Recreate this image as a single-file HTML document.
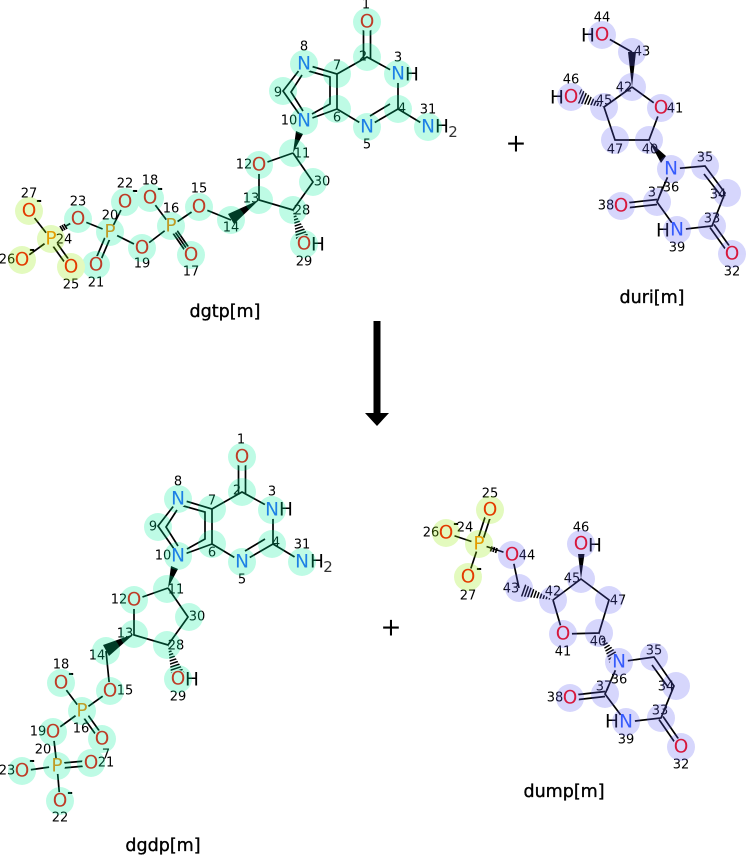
<!DOCTYPE html>
<html><head><meta charset="utf-8"><style>
html,body{margin:0;padding:0;background:#fff}
svg{display:block}
text{font-family:"DejaVu Sans",sans-serif;text-anchor:middle;dominant-baseline:central}
.b line,.b polyline{stroke:#000;stroke-width:1.7;fill:none}
.a text{font-size:18.5px}
.O{fill:#ff0000}.N{fill:#285aff}.P{fill:#ff8000}
.n text{font-size:13px;fill:#000}
.h text{font-size:18.5px;fill:#000}
.m text{font-size:14px;font-weight:bold;fill:#000}
.t{font-size:17.5px;fill:#000;stroke:#000;stroke-width:.35px}
.hash{stroke:#000;stroke-dasharray:1.5 1.5;fill:none}
</style></head><body>
<svg width="746" height="856" viewBox="0 0 746 856" xmlns="http://www.w3.org/2000/svg">
<defs>
<clipPath id="h1"><polygon points="293,210 309.6,237.8 296.4,242.2"/></clipPath>
<clipPath id="h2"><polygon points="604,107 581,89 575,103"/></clipPath>
<clipPath id="h3"><polygon points="553,600 524,583.8 520,596.2"/></clipPath>
<clipPath id="h4"><polygon points="599,633 620.2,657 609.8,663"/></clipPath>
</defs>

<!-- shared upper skeleton for dgtp -->
<g class="b">
<line x1="363.5" y1="22" x2="363.5" y2="59"/><line x1="370.5" y1="22" x2="370.5" y2="59"/>
<polyline points="337,74 367,57 398,74 398,109 367,127 337,109 337,74 304,64 283,91 304,121 337,109"/>
<line x1="370" y1="116" x2="390" y2="104"/>
<polyline points="305,70 330,77 330,104 312,114"/>
<polyline points="302,75 291,92 303,111"/>
<line x1="398" y1="109" x2="428" y2="127"/>
<polyline points="293,153 259,165 259,200 293,210 313,182 293,153"/>
<polyline points="231,220 199,207 171,226 191,255"/>
<line x1="173" y1="224.6" x2="193" y2="253.6"/><line x1="169" y1="227.4" x2="189" y2="256.4"/>
<line x1="171" y1="226" x2="150" y2="198"/>
<polyline points="171,226 142,248 110,232 125,202"/>
<line x1="112.3" y1="233" x2="98.3" y2="266"/><line x1="107.7" y1="231" x2="93.7" y2="264"/>
<line x1="110" y1="232" x2="78" y2="219"/>
<line x1="78" y1="219" x2="66" y2="226"/>
<line x1="60" y1="226" x2="63" y2="231"/><line x1="62" y1="225" x2="65" y2="230"/><line x1="64" y1="224" x2="67" y2="229"/>
<line x1="53" y1="237.5" x2="73" y2="265.5"/><line x1="49" y1="240.5" x2="69" y2="268.5"/>
<line x1="51" y1="239" x2="22" y2="260"/><line x1="51" y1="239" x2="29" y2="211"/>
</g>
<polygon points="293,153 296,131 303,134" fill="#000"/>
<polygon points="259,200 228,214 234,224" fill="#000"/>
<line class="hash" x1="293" y1="210" x2="303" y2="240" stroke-width="16" clip-path="url(#h1)"/>

<!-- dgdp skeleton -->
<g transform="translate(-125,435)">
<g class="b">
<line x1="363.5" y1="22" x2="363.5" y2="59"/><line x1="370.5" y1="22" x2="370.5" y2="59"/>
<polyline points="337,74 367,57 398,74 398,109 367,127 337,109 337,74 304,64 283,91 304,121 337,109"/>
<line x1="370" y1="116" x2="390" y2="104"/>
<polyline points="305,70 330,77 330,104 312,114"/>
<polyline points="302,75 291,92 303,111"/>
<line x1="398" y1="109" x2="428" y2="127"/>
<polyline points="293,153 259,165 259,200 293,210 313,182 293,153"/>
</g>
<polygon points="293,153 296,131 303,134" fill="#000"/>
<line class="hash" x1="293" y1="210" x2="303" y2="240" stroke-width="16" clip-path="url(#h1)"/>
</g>
<polygon points="134,634 103,645 109,656" fill="#000"/>
<g class="b">
<polyline points="106,651 110,691 82,711 61,683"/>
<line x1="84" y1="709.5" x2="104" y2="737.5"/><line x1="80" y1="712.5" x2="100" y2="740.5"/>
<polyline points="82,711 53,732 57,766 22,771"/>
<line x1="57" y1="768.5" x2="91" y2="765.5"/><line x1="57" y1="763.5" x2="91" y2="760.5"/>
<line x1="57" y1="766" x2="60" y2="801"/>
</g>

<!-- duri skeleton -->
<g class="b">
<polyline points="602,35 632,52"/>
<polyline points="632,87 661,108 649,140 615,140 604,107 632,87"/>
<polyline points="671,169 705,166 725,193 712,226 677,230 657,202 671,169"/>
<line x1="704" y1="174" x2="722" y2="197"/>
<line x1="657" y1="199.5" x2="621" y2="203.5"/><line x1="657" y1="204.5" x2="621" y2="208.5"/>
<line x1="714" y1="224.5" x2="734" y2="252.5"/><line x1="710" y1="227.5" x2="730" y2="255.5"/>
</g>
<polygon points="632,87 628,52 636,52" fill="#000"/>
<polygon points="649,141 666,156 661,163" fill="#000"/>
<line class="hash" x1="604" y1="107" x2="578" y2="96" stroke-width="16" clip-path="url(#h2)"/>

<!-- dump skeleton -->
<g class="b">
<line x1="481.4" y1="544.8" x2="492.4" y2="510.8"/><line x1="476.6" y1="543.2" x2="487.6" y2="509.2"/>
<line x1="479" y1="544" x2="446" y2="533"/><line x1="479" y1="544" x2="468" y2="577"/>
<line x1="479" y1="544" x2="497" y2="550"/><line x1="512" y1="555" x2="497" y2="550"/>
<line x1="492" y1="546.5" x2="490.5" y2="551.5"/><line x1="494.5" y1="547" x2="493" y2="552"/><line x1="497" y1="548" x2="495.5" y2="553"/>
<line x1="512" y1="555" x2="519" y2="588"/>
<polyline points="553,600 581,579 609,600 599,633 563,634 553,600"/>
<polyline points="619,662 654,657 674,686 661,718 626,722 605,694 619,662"/>
<line x1="652" y1="665" x2="668" y2="687"/>
<line x1="605" y1="691.5" x2="570" y2="695.5"/><line x1="605" y1="696.5" x2="570" y2="700.5"/>
<line x1="663" y1="716.5" x2="683" y2="745.5"/><line x1="659" y1="719.5" x2="679" y2="748.5"/>
</g>
<polygon points="581,579 578,554 584.5,554" fill="#000"/>
<line class="hash" x1="553" y1="600" x2="519" y2="588" stroke-width="16" clip-path="url(#h3)"/>
<line class="hash" x1="599" y1="633" x2="615" y2="660" stroke-width="16" clip-path="url(#h4)"/>

<g class="n"><text x="106" y="755">7</text></g>

<!-- white discs clearing bond ends behind heteroatoms -->
<g fill="#fff">
<circle cx="367" cy="22" r="9"/><circle cx="259" cy="165" r="9"/><circle cx="199" cy="207" r="9"/><circle cx="191" cy="255" r="9"/><circle cx="150" cy="198" r="9"/><circle cx="142" cy="248" r="9"/><circle cx="96" cy="265" r="9"/><circle cx="125" cy="202" r="9"/><circle cx="78" cy="219" r="9"/><circle cx="71" cy="267" r="9"/><circle cx="22" cy="260" r="9"/><circle cx="29" cy="211" r="9"/><circle cx="304" cy="244" r="9"/>
<circle cx="602" cy="35" r="9"/><circle cx="661" cy="108" r="9"/><circle cx="571" cy="97" r="9"/><circle cx="732" cy="254" r="9"/><circle cx="621" cy="206" r="9"/>
<circle cx="242" cy="457" r="9"/><circle cx="134" cy="600" r="9"/><circle cx="110" cy="691" r="9"/><circle cx="102" cy="739" r="9"/><circle cx="61" cy="683" r="9"/><circle cx="53" cy="732" r="9"/><circle cx="91" cy="763" r="9"/><circle cx="60" cy="801" r="9"/><circle cx="22" cy="771" r="9"/><circle cx="178" cy="679" r="9"/>
<circle cx="490" cy="510" r="9"/><circle cx="446" cy="533" r="9"/><circle cx="468" cy="577" r="9"/><circle cx="512" cy="555" r="9"/><circle cx="563" cy="634" r="9"/><circle cx="581" cy="544" r="9"/><circle cx="681" cy="747" r="9"/><circle cx="570" cy="698" r="9"/>
<circle cx="398" cy="74" r="9"/><circle cx="367" cy="127" r="9"/><circle cx="304" cy="64" r="9"/><circle cx="304" cy="121" r="9"/><circle cx="428" cy="127" r="9"/>
<circle cx="671" cy="169" r="9"/><circle cx="677" cy="230" r="9"/>
<circle cx="272" cy="510" r="9"/><circle cx="242" cy="562" r="9"/><circle cx="178" cy="499" r="9"/><circle cx="178" cy="556" r="9"/><circle cx="302" cy="562" r="9"/>
<circle cx="619" cy="662" r="9"/><circle cx="626" cy="722" r="9"/>
<circle cx="171" cy="226" r="8"/><circle cx="110" cy="232" r="8"/><circle cx="51" cy="239" r="8"/><circle cx="82" cy="711" r="8"/><circle cx="57" cy="766" r="8"/><circle cx="479" cy="544" r="8"/>
</g>

<!-- atom labels -->
<g class="a">
<g class="O">
<text x="367" y="22">O</text><text x="259" y="165">O</text><text x="199" y="207">O</text><text x="191" y="255">O</text><text x="150" y="198">O</text><text x="142" y="248">O</text><text x="96" y="265">O</text><text x="125" y="202">O</text><text x="78" y="219">O</text><text x="71" y="267">O</text><text x="22" y="260">O</text><text x="29" y="211">O</text><text x="304" y="244">O</text>
<text x="602" y="35">O</text><text x="661" y="108">O</text><text x="571" y="97">O</text><text x="732" y="254">O</text><text x="621" y="206">O</text>
<text x="242" y="457">O</text><text x="134" y="600">O</text><text x="110" y="691">O</text><text x="102" y="739">O</text><text x="61" y="683">O</text><text x="53" y="732">O</text><text x="91" y="763">O</text><text x="60" y="801">O</text><text x="22" y="771">O</text><text x="178" y="679">O</text>
<text x="490" y="510">O</text><text x="446" y="533">O</text><text x="468" y="577">O</text><text x="512" y="555">O</text><text x="563" y="634">O</text><text x="581" y="544">O</text><text x="681" y="747">O</text><text x="570" y="698">O</text>
</g>
<g class="N">
<text x="398" y="74">N</text><text x="367" y="127">N</text><text x="304" y="64">N</text><text x="304" y="121">N</text><text x="428" y="127">N</text>
<text x="671" y="169">N</text><text x="677" y="230">N</text>
<text x="272" y="510">N</text><text x="242" y="562">N</text><text x="178" y="499">N</text><text x="178" y="556">N</text><text x="302" y="562">N</text>
<text x="619" y="662">N</text><text x="626" y="722">N</text>
</g>
<g class="P">
<text x="171" y="226">P</text><text x="110" y="232">P</text><text x="51" y="239">P</text><text x="82" y="711">P</text><text x="57" y="766">P</text><text x="479" y="544">P</text>
</g>
</g>

<!-- hydrogen text -->
<g class="h">
<text x="412" y="75">H</text><text x="442" y="127">H</text><text x="453" y="132" style="font-size:15px;fill:#333">2</text><text x="318" y="245">H</text>
<text x="588" y="36">H</text><text x="557" y="98">H</text><text x="663" y="231">H</text>
<text x="286" y="510">H</text><text x="317" y="562">H</text><text x="328" y="567" style="font-size:15px;fill:#333">2</text><text x="192" y="680">H</text>
<text x="595" y="546">H</text><text x="612" y="722">H</text>
</g>

<!-- charges -->
<g class="m">
<text x="39" y="201">-</text><text x="32" y="250">-</text><text x="135" y="191">-</text><text x="160" y="189">-</text>
<text x="71" y="674">-</text><text x="32" y="761">-</text><text x="70" y="793">-</text>
<text x="456" y="524">-</text><text x="479" y="569">-</text>
</g>

<!-- atom numbers -->
<g class="n">
<text x="366" y="5">1</text><text x="363" y="57">2</text><text x="398" y="58">3</text><text x="402" y="109">4</text><text x="367" y="145">5</text><text x="337" y="118">6</text><text x="337" y="66">7</text><text x="304" y="47">8</text><text x="278" y="93">9</text><text x="289" y="121">10</text><text x="302" y="154">11</text><text x="244" y="165">12</text><text x="251" y="199">13</text><text x="231" y="228">14</text><text x="199" y="189">15</text><text x="171" y="209">16</text><text x="191" y="272">17</text><text x="150" y="181">18</text><text x="142" y="264">19</text><text x="110" y="216">20</text><text x="96" y="283">21</text><text x="125" y="184">22</text><text x="78" y="202">23</text><text x="64" y="240">24</text><text x="71" y="285">25</text><text x="7" y="260">26</text><text x="29" y="194">27</text><text x="302" y="211">28</text><text x="304" y="262">29</text><text x="322" y="182">30</text><text x="428" y="110">31</text>
<text x="732" y="272">32</text><text x="712" y="219">33</text><text x="718" y="195">34</text><text x="705" y="158">35</text><text x="671" y="188">36</text><text x="656" y="193">37</text><text x="606" y="206">38</text><text x="677" y="248">39</text><text x="650" y="150">40</text><text x="675" y="109">41</text><text x="624" y="88">42</text><text x="642" y="52">43</text><text x="602" y="18">44</text><text x="604" y="101">45</text><text x="571" y="80">46</text><text x="615" y="150">47</text>
<text x="241" y="440">1</text><text x="237" y="491">2</text><text x="272" y="492">3</text><text x="276" y="543">4</text><text x="242" y="580">5</text><text x="212" y="553">6</text><text x="212" y="501">7</text><text x="178" y="482">8</text><text x="153" y="527">9</text><text x="163" y="556">10</text><text x="176" y="590">11</text><text x="119" y="600">12</text><text x="125" y="634">13</text><text x="97" y="656">14</text><text x="125" y="691">15</text><text x="81" y="729">16</text><text x="61" y="665">18</text><text x="38" y="732">19</text><text x="43" y="750">20</text><text x="106" y="763">21</text><text x="60" y="818">22</text><text x="7" y="771">23</text><text x="176" y="646">28</text><text x="178" y="697">29</text><text x="197" y="617">30</text><text x="302" y="545">31</text>
<text x="490" y="494">25</text><text x="465" y="528">24</text><text x="431" y="533">26</text><text x="468" y="596">27</text><text x="527" y="556">44</text><text x="511" y="589">43</text><text x="553" y="592">42</text><text x="563" y="652">41</text><text x="598" y="642">40</text><text x="618" y="601">47</text><text x="572" y="579">45</text><text x="581" y="528">46</text><text x="619" y="680">36</text><text x="654" y="651">35</text><text x="666" y="687">34</text><text x="660" y="711">33</text><text x="681" y="765">32</text><text x="626" y="740">39</text><text x="604" y="687">37</text><text x="555" y="698">38</text>
</g>

<!-- highlights, composited over everything -->
<g opacity="0.25">
<g fill="#00f09c">
<circle cx="367" cy="22" r="14"/><circle cx="367" cy="57" r="14"/><circle cx="398" cy="74" r="14"/><circle cx="398" cy="109" r="14"/><circle cx="367" cy="127" r="14"/><circle cx="337" cy="109" r="14"/><circle cx="337" cy="74" r="14"/><circle cx="304" cy="64" r="14"/><circle cx="283" cy="91" r="14"/><circle cx="304" cy="121" r="14"/><circle cx="293" cy="153" r="14"/><circle cx="259" cy="165" r="14"/><circle cx="259" cy="200" r="14"/><circle cx="231" cy="220" r="14"/><circle cx="199" cy="207" r="14"/><circle cx="171" cy="226" r="14"/><circle cx="191" cy="255" r="14"/><circle cx="150" cy="198" r="14"/><circle cx="142" cy="248" r="14"/><circle cx="110" cy="232" r="14"/><circle cx="96" cy="265" r="14"/><circle cx="125" cy="202" r="14"/><circle cx="78" cy="219" r="14"/><circle cx="293" cy="210" r="14"/><circle cx="304" cy="244" r="14"/><circle cx="313" cy="182" r="14"/><circle cx="428" cy="127" r="14"/>
<circle cx="242" cy="457" r="14"/><circle cx="242" cy="492" r="14"/><circle cx="272" cy="510" r="14"/><circle cx="272" cy="544" r="14"/><circle cx="242" cy="562" r="14"/><circle cx="212" cy="544" r="14"/><circle cx="212" cy="509" r="14"/><circle cx="178" cy="499" r="14"/><circle cx="158" cy="527" r="14"/><circle cx="178" cy="556" r="14"/><circle cx="167" cy="589" r="14"/><circle cx="134" cy="600" r="14"/><circle cx="134" cy="634" r="14"/><circle cx="106" cy="651" r="14"/><circle cx="110" cy="691" r="14"/><circle cx="82" cy="711" r="14"/><circle cx="102" cy="739" r="14"/><circle cx="61" cy="683" r="14"/><circle cx="53" cy="732" r="14"/><circle cx="57" cy="766" r="14"/><circle cx="91" cy="763" r="14"/><circle cx="60" cy="801" r="14"/><circle cx="22" cy="771" r="14"/><circle cx="167" cy="645" r="14"/><circle cx="178" cy="679" r="14"/><circle cx="189" cy="617" r="14"/><circle cx="302" cy="562" r="14"/>
</g>
<g fill="#94ec00">
<circle cx="51" cy="239" r="14"/><circle cx="71" cy="267" r="14"/><circle cx="22" cy="260" r="14"/><circle cx="29" cy="211" r="14"/>
<circle cx="490" cy="510" r="14"/><circle cx="479" cy="544" r="14"/><circle cx="446" cy="533" r="14"/><circle cx="468" cy="577" r="14"/>
</g>
<g fill="#6060f4">
<circle cx="602" cy="35" r="14"/><circle cx="632" cy="52" r="14"/><circle cx="632" cy="87" r="14"/><circle cx="661" cy="108" r="14"/><circle cx="649" cy="140" r="14"/><circle cx="615" cy="140" r="14"/><circle cx="604" cy="107" r="14"/><circle cx="571" cy="97" r="14"/><circle cx="671" cy="169" r="14"/><circle cx="705" cy="166" r="14"/><circle cx="727" cy="193" r="14"/><circle cx="712" cy="226" r="14"/><circle cx="732" cy="254" r="14"/><circle cx="677" cy="230" r="14"/><circle cx="657" cy="202" r="14"/><circle cx="621" cy="206" r="14"/>
<circle cx="512" cy="555" r="14"/><circle cx="519" cy="588" r="14"/><circle cx="553" cy="600" r="14"/><circle cx="563" cy="634" r="14"/><circle cx="599" cy="633" r="14"/><circle cx="609" cy="600" r="14"/><circle cx="581" cy="579" r="14"/><circle cx="581" cy="544" r="14"/><circle cx="619" cy="662" r="14"/><circle cx="654" cy="657" r="14"/><circle cx="676" cy="686" r="14"/><circle cx="661" cy="718" r="14"/><circle cx="681" cy="747" r="14"/><circle cx="626" cy="722" r="14"/><circle cx="605" cy="694" r="14"/><circle cx="570" cy="698" r="14"/>
</g>
</g>

<!-- names -->
<text class="t" x="225" y="312">dgtp[m]</text>
<text class="t" x="652" y="298">duri[m]</text>
<text class="t" x="163" y="846">dgdp[m]</text>
<text class="t" x="564" y="792">dump[m]</text>

<text x="516" y="143" style="font-size:25px">+</text>
<text x="391" y="627" style="font-size:25px">+</text>

<polygon points="373.5,321 380.5,321 380.5,413 389,413 377,426 365,413 373.5,413" fill="#000"/>
</svg>
</body></html>
